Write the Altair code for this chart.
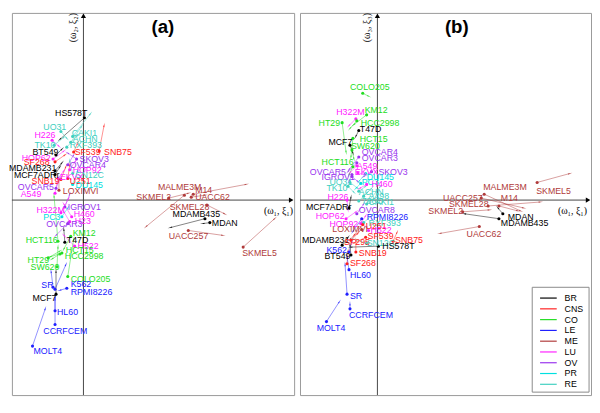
import altair as alt
import pandas as pd
import numpy as np

groups = ["BR", "CNS", "CO", "LE", "ME", "LU", "OV", "PR", "RE"]
colors = ["#000000", "#ff2020", "#22dd22", "#2020ff", "#b03a3a", "#ff20ff", "#9933ee", "#00e0e0", "#40d0c0"]

# ---------------- panel (a): (w1,xi1) vs (w2,xi2) ----------------
names_a = ["HS578T", "UO31", "CAKI1", "ACHN", "RXF393", "H226", "TK10", "BT549", "SF539", "SNB75",
           "HOP62", "SF268", "SKOV3", "OVCAR4", "HOP92", "MDAMB231", "MCF7ADRr", "SN12C", "EKVX", "SNB19",
           "U251", "DU145", "OVCAR5", "LOXIMVI", "A549", "IGROV1", "H322M", "PC3", "H460", "H23",
           "OVCAR3", "KM12", "HCT116", "T47D", "H522", "HCT15", "HCC2998", "HT29", "SW620", "COLO205",
           "SR", "K562", "RPMI8226", "MCF7", "HL60", "CCRFCEM", "MOLT4", "MALME3M", "M14", "SKMEL2",
           "UACC62", "SKMEL28", "MDAMB435", "MDAN", "UACC257", "SKMEL5"]
groups_a = ["BR", "RE", "RE", "RE", "RE", "LU", "RE", "BR", "CNS", "CNS",
            "LU", "CNS", "OV", "OV", "LU", "BR", "BR", "RE", "LU", "CNS",
            "CNS", "PR", "OV", "ME", "LU", "OV", "LU", "PR", "LU", "LU",
            "OV", "CO", "CO", "BR", "LU", "CO", "CO", "CO", "CO", "CO",
            "LE", "LE", "LE", "BR", "LE", "LE", "LE", "ME", "ME", "ME",
            "ME", "ME", "BR", "BR", "ME", "ME"]
x_a = [1, -23, -11, -13, -17, -32, -30, -28, -10, 16,
       -31, -29, -7, -16, -14, -29, -29, -11, -26, -23,
       -16, -11, -28, -25, -29, -19, -23, -22, -12, -14,
       -16, -13, -26, -19, -9, -22, -24, -36, -27, -16,
       -31, -29, -17, -28, -29, -29, -52, 112, 103, 87,
       110, 126, 124, 129, 107, 163]
y_a = [84, 70, 65, 59, 54, 61, 56, 46, 49, 50,
       42, 39, 42, 36, 31, 30, 26, 27, 22, 21,
       22, 16, 12, 10, 7, -7, -13, -17, -17, -22,
       -24, -37, -42, -43, -47, -54, -55, -59, -68, -78,
       -89, -91, -90, -96, -113, -127, -149, 6, 5, 2,
       3, -5, -19, -23, -31, -48]
ax_a = [-24, -17, 7, -2, -6, -25, -20, -22, -6, 21,
        -20, -19, -16, -10, -8, -22, -24, -14, -20, -18,
        -14, -6, -24, -25, -27, -14, -15, -16, -20, -20,
        -28, -20, -30, -20, -20, -34, -32, -24, -26, -10,
        -33, -18, -24, -28, -29, -29, -39, 166, 64, 107,
        124, 144, 89, 122, 142, 195]
ay_a = [62, 63, 88, 75, 66, 55, 64, 52, 58, 76,
        50, 46, 48, 46, 40, 38, 34, 40, 30, 34,
        36, 30, 22, 22, 18, 6, 2, -8, -4, -12,
        -36, -50, 4, -30, -36, -58, -60, -52, -48, -40,
        -73, -66, -92, -73, -99, -101, -111, 16, -27, 7,
        5, -14, -28, -24, -36, -19]
tx_a = [-29, -41, -12, -11, -14, -50, -50, -52, -9, 21,
        -63, -61, -4, -14, -11, -76, -71, -8, -24, -53,
        -14, -8, -67, -21, -64, -16, -48, -41, -10, -9,
        -38, -11, -59, -17, -6, -18, -19, -57, -54, -13,
        -43, -13, -13, -52, -27, -41, -51, 76, 114, 54,
        114, 88, 91, 131, 87, 162]
ty_a = [89, 75, 68, 62, 56, 66, 56, 49, 49, 49,
        43, 39, 42, 36, 31, 33, 26, 26, 24, 19,
        19, 15, 13, 9, 6, -7, -10, -17, -14, -21,
        -24, -34, -41, -41, -47, -51, -57, -61, -68, -81,
        -87, -86, -94, -100, -114, -134, -154, 13, 10, 3,
        3, -7, -14, -23, -37, -54]

# ---------------- panel (b): (w1,xi1) vs (w3,xi3) ----------------
names_b = ["COLO205", "KM12", "H322M", "HT29", "HCC2998", "T47D", "HCT15", "MCF7", "SW620", "OVCAR4",
           "OVCAR3", "HCT116", "A549", "OVCAR5", "EKVX", "SKOV3", "IGROV1", "DU145", "UO31", "PC3",
           "H460", "TK10", "ACHN", "A498", "H226", "786O", "CAKI1", "MCF7ADRr", "OVCAR8", "HOP62",
           "RPMI8226", "HOP92", "RXF393", "U251", "LOXIMVI", "H522", "SF539", "SNB75", "MDAMB231", "SF295",
           "SN12C", "HS578T", "K562", "SNB19", "BT549", "SF268", "HL60", "SR", "CCRFCEM", "MOLT4",
           "MALME3M", "UACC257", "M14", "SKMEL28", "SKMEL2", "MDAN", "MDAMB435", "UACC62", "SKMEL5"]
groups_b = ["CO", "CO", "LU", "CO", "CO", "BR", "CO", "BR", "CO", "OV",
            "OV", "CO", "LU", "OV", "LU", "OV", "OV", "PR", "RE", "PR",
            "LU", "RE", "RE", "RE", "LU", "RE", "RE", "BR", "OV", "LU",
            "LE", "LU", "RE", "CNS", "ME", "LU", "CNS", "CNS", "BR", "CNS",
            "RE", "BR", "LE", "CNS", "BR", "CNS", "LE", "LE", "LE", "LE",
            "ME", "ME", "ME", "ME", "ME", "BR", "BR", "ME", "ME"]
x_b = [-15, -11, -22, -36, -21, -19, -25, -28, -26, -19,
       -21, -25, -21, -26, -20, -6, -26, -12, -28, -17,
       -11, -30, -19, -14, -31, -19, -11, -29, -21, -32,
       -16, -17, -14, -15, -16, -9, -12, 16, -36, -27,
       -11, 1, -29, -22, -27, -31, -29, -31, -28, -52,
       109, 106, 124, 113, 87, 128, 124, 104, 163]
y_b = [109, 87, 83, 79, 81, 71, 63, 56, 51, 44,
       38, 34, 35, 26, 28, 29, 24, 27, 18, 17,
       16, 14, 9, 4, 0, -1, -4, -8, -14, -19,
       -19, -24, -23, -25, -30, -31, -38, -42, -46, -41,
       -44, -47, -53, -53, -56, -65, -71, -96, -111, -124,
       6, 2, -6, -6, -12, -14, -19, -27, 18]
ax_b = [-9, -24, -29, -32, -28, -22, -27, -25, -24, -29,
        -30, -29, -28, -29, -13, -14, -20, -19, -20, -22,
        -18, -24, -12, -6, -30, -10, 3, -27, -14, -22,
        -25, -12, -4, -24, -28, -16, -24, 20, -30, -20,
        -24, -27, -26, -22, -28, -30, -31, -33, -28, -39,
        146, 149, 143, 166, 114, 123, 89, 64, 196]
ay_b = [106, 77, 76, 49, 73, 65, 44, 48, 42, 31,
        29, 26, 28, 19, 26, 24, 19, 19, 12, 12,
        12, 8, 14, 12, -10, 8, 14, 3, -4, -12,
        -32, -16, -14, -36, -40, -22, -44, -33, -38, -34,
        -40, -48, -42, -41, -46, -52, -58, -66, -106, -104,
        -11, -8, -11, -2, -10, -8, -14, -34, 27]
tx_b = [-28, -13, -42, -60, -17, -18, -18, -50, -27, -16,
        -16, -57, -21, -69, -23, 1, -57, -11, -49, -16,
        -6, -52, -19, -9, -51, -16, -9, -73, -19, -63,
        -11, -49, -9, -12, -46, -7, -10, 18, -77, -34,
        -11, 5, -52, -19, -54, -28, -28, -28, -29, -62,
        108, 67, 126, 73, 52, 133, 126, 91, 162]
ty_b = [115, 92, 90, 79, 79, 72, 62, 59, 55, 49,
        43, 39, 35, 29, 29, 29, 23, 23, 18, 18,
        16, 12, 8, 4, 3, -1, -2, -7, -10, -16,
        -17, -24, -23, -27, -30, -31, -37, -41, -41, -43,
        -44, -47, -51, -54, -57, -64, -77, -98, -117, -131,
        13, 2, 2, -4, -11, -17, -23, -35, 9]

H = 390
YDOM = [-199, 191]
FONT = "Liberation Sans"
SERIF = "Liberation Serif"
color = alt.Color("grp:N", scale=alt.Scale(domain=groups, range=colors), legend=None)


def make_panel(names, grps, xs, ys, axs, ays, txs, tys, xdom, width, tag, ylab, with_legend=False):
    df = pd.DataFrame(dict(name=names, grp=grps, x=xs, y=ys, ax=axs, ay=ays, tx=txs, ty=tys))
    sx = width / (xdom[1] - xdom[0])
    sy = H / (YDOM[1] - YDOM[0])
    df["ang"] = (np.degrees(np.arctan2((df.ax - df.x) * sx, (df.ay - df.y) * sy)) + 360) % 360
    xsc = alt.Scale(domain=xdom, nice=False, zero=False)
    ysc = alt.Scale(domain=YDOM, nice=False, zero=False)

    def X(f):
        return alt.X(f, scale=xsc, axis=None)

    def Y(f):
        return alt.Y(f, scale=ysc, axis=None)

    base = alt.Chart(df)

    # axis lines with arrowheads
    ax_lines = pd.DataFrame({"x": [xdom[0], 0], "x2": [xdom[1] - 2, 0],
                             "y": [0, YDOM[0]], "y2": [0, YDOM[1] - 3]})
    ax_heads = pd.DataFrame({"x": [0, xdom[1] - 3], "y": [YDOM[1] - 3, 0], "ang": [0, 90]})
    lines = alt.Chart(ax_lines).mark_rule(color="#444", strokeWidth=1).encode(
        x=X("x:Q"), x2="x2:Q", y=Y("y:Q"), y2="y2:Q")
    tips = alt.Chart(ax_heads).mark_point(shape="triangle-up", filled=True, size=28, color="#000",
                                          opacity=1).encode(
        x=X("x:Q"), y=Y("y:Q"), angle=alt.Angle("ang:Q", scale=None))

    arrows = base.mark_rule(strokeWidth=0.7, opacity=0.7).encode(
        x=X("x:Q"), y=Y("y:Q"), x2="ax:Q", y2="ay:Q", color=color)
    heads = base.mark_point(shape="wedge", filled=True, size=28, opacity=0.8).encode(
        x=X("ax:Q"), y=Y("ay:Q"), angle=alt.Angle("ang:Q", scale=None), color=color)
    dots = base.mark_circle(size=10, opacity=1).encode(x=X("x:Q"), y=Y("y:Q"), color=color)
    labels = base.mark_text(align="left", baseline="middle", font=FONT, fontSize=9).encode(
        x=X("tx:Q"), y=Y("ty:Q"), text="name:N", color=color)

    ann = pd.DataFrame({"x": [81], "y": [177], "xl": [-11], "yl": [176], "xx": [199], "yx": [-11]})
    title = alt.Chart(ann).mark_text(text=tag, font=FONT, fontSize=19, fontWeight="bold",
                                     color="#000").encode(x=X("x:Q"), y=Y("y:Q"))
    ylabel = alt.Chart(ann).mark_text(text=ylab, font=SERIF, fontSize=10, angle=270,
                                      color="#000").encode(x=X("xl:Q"), y=Y("yl:Q"))
    xlabel = alt.Chart(ann).mark_text(text="(ω₁, ξ₁)", font=SERIF, fontSize=10,
                                      color="#000").encode(x=X("xx:Q"), y=Y("yx:Q"))

    layers = [lines, tips, arrows, heads, dots, labels, title, ylabel, xlabel]

    if with_legend:
        leg = pd.DataFrame({"grp": groups, "ly": [-100 - 11 * i for i in range(len(groups))],
                            "lx": 166, "lx2": 183, "tx": 191})
        boxdf = pd.DataFrame({"x": [158], "x2": [216], "y": [-89], "y2": [-196]})
        box = alt.Chart(boxdf).mark_rect(fill="white", stroke="#888", strokeWidth=1).encode(
            x=X("x:Q"), x2="x2:Q", y=Y("y:Q"), y2="y2:Q")
        lrule = alt.Chart(leg).mark_rule(strokeWidth=1.2).encode(
            x=X("lx:Q"), x2="lx2:Q", y=Y("ly:Q"), color=color)
        ltext = alt.Chart(leg).mark_text(align="left", baseline="middle", font=FONT, fontSize=9,
                                         color="#000").encode(
            x=X("tx:Q"), y=Y("ly:Q"), text="grp:N")
        layers += [box, lrule, ltext]

    return alt.layer(*layers).properties(width=width, height=H)


pa = make_panel(names_a, groups_a, x_a, y_a, ax_a, ay_a, tx_a, ty_a, [-73, 215], 288, "(a)", "(ω₂, ξ₂)")
pb = make_panel(names_b, groups_b, x_b, y_b, ax_b, ay_b, tx_b, ty_b, [-79, 218], 297, "(b)", "(ω₃, ξ₃)",
                with_legend=True)

chart = alt.hconcat(pa, pb, spacing=4).configure_view(
    stroke="#999", strokeWidth=1).properties(padding=0, background="white")

chart.save("out.html", embed_options={"renderer": "svg", "actions": False})
